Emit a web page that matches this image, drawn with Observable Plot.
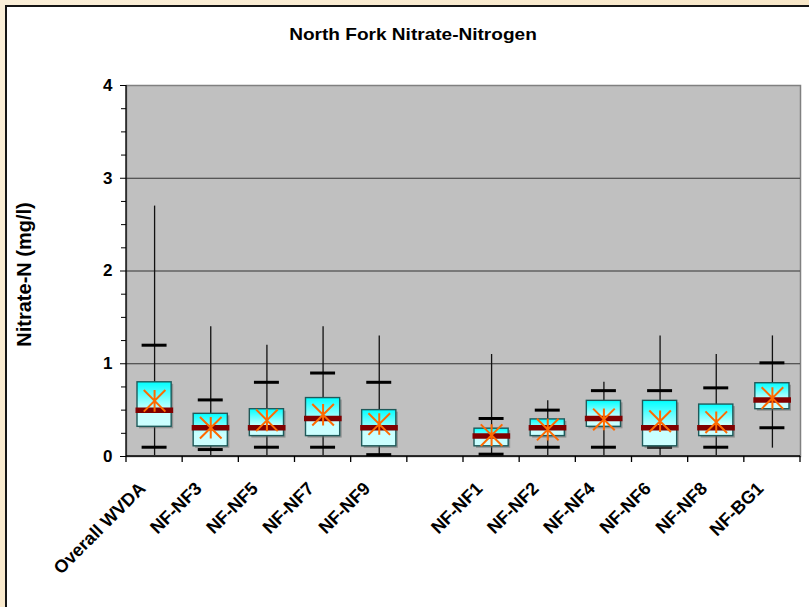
<!DOCTYPE html>
<html><head><meta charset="utf-8">
<script src="https://cdn.jsdelivr.net/npm/d3@7"></script>
<script src="https://cdn.jsdelivr.net/npm/@observablehq/plot@0.6"></script>
<style>
html,body{margin:0;padding:0;width:809px;height:607px;overflow:hidden;background:linear-gradient(135deg,#fbefd8,#f6e2bd);font-family:"Liberation Sans",Arial,sans-serif;}
#panel{position:absolute;left:5px;top:5px;width:840px;height:650px;background:#fff;border-left:2px solid #151515;border-top:2px solid #151515;}
#title{position:absolute;left:0;top:26px;width:826px;text-align:center;font-weight:bold;font-size:17px;line-height:18px;color:#000;transform:scaleX(1.12);transform-origin:413px 0;}
#chart{position:absolute;left:0;top:0;}
</style></head>
<body>
<div id="panel"></div>
<div id="title">North Fork Nitrate-Nitrogen</div>
<div id="chart"></div>
<script>
// ---- data ----
const groupA = ["Overall WVDA", "NF-NF3", "NF-NF5", "NF-NF7", "NF-NF9"];
const groupB = ["NF-NF1", "NF-NF2", "NF-NF4", "NF-NF6", "NF-NF8", "NF-BG1"];
const categories = [...groupA, ...groupB];
const mins    = [0.01, 0.01, 0.01, 0.01, 0.01, 0.01, 0.01, 0.01, 0.01, 0.01, 0.09];
const p10     = [0.10, 0.075, 0.10, 0.10, 0.02, 0.025, 0.10, 0.10, 0.10, 0.10, 0.31];
const q1      = [0.32, 0.11, 0.22, 0.22, 0.11, 0.11, 0.22, 0.32, 0.11, 0.22, 0.51];
const medians = [0.50, 0.31, 0.31, 0.41, 0.31, 0.22, 0.31, 0.41, 0.31, 0.31, 0.61];
const means   = [0.60, 0.31, 0.39, 0.45, 0.35, 0.23, 0.29, 0.40, 0.38, 0.37, 0.63];
const q3      = [0.80, 0.46, 0.51, 0.63, 0.50, 0.30, 0.40, 0.60, 0.60, 0.56, 0.79];
const p90     = [1.20, 0.61, 0.80, 0.90, 0.80, 0.41, 0.50, 0.71, 0.71, 0.74, 1.01];
const maxs    = [2.70, 1.40, 1.20, 1.40, 1.30, 1.10, 0.60, 0.80, 1.30, 1.10, 1.30];
const yTicks = [0, 1, 2, 3, 4];
const gridValues = [1, 2, 3];
const yLabel = "Nitrate-N (mg/l)";

const domain = [...groupA, "", ...groupB];
const rows = categories.map((c, i) => ({
  cat: c, min: mins[i], p10: p10[i], q1: q1[i], median: medians[i],
  mean: means[i], q3: q3[i], p90: p90[i], max: maxs[i]
}));

// mean marker: X plus vertical bar
const starX = {
  draw(ctx, size) {
    const r = Math.sqrt(size / Math.PI);
    ctx.moveTo(-r, -r); ctx.lineTo(r, r);
    ctx.moveTo(-r, r); ctx.lineTo(r, -r);
    ctx.moveTo(0, -r); ctx.lineTo(0, r);
  }
};

function defs() {
  const svg = d3.create("svg:defs");
  const g = svg.append("linearGradient").attr("id", "boxGrad")
    .attr("x1", 0).attr("y1", 0).attr("x2", 0).attr("y2", 1);
  g.append("stop").attr("offset", 0).attr("stop-color", "#00ffff");
  g.append("stop").attr("offset", 0.62).attr("stop-color", "#c8ffff");
  g.append("stop").attr("offset", 1).attr("stop-color", "#ccffff");
  return svg.node();
}

function axisLines(index, scales, values, dims) {
  const {x, y} = scales;
  const g = d3.create("svg:g");
  const right = dims.width - dims.marginRight;
  const bounds = domain.map(d => x(d)).concat([right]);
  const y0 = y(0);
  g.append("line").attr("x1", bounds[0]).attr("x2", right).attr("y1", y0).attr("y2", y0)
    .attr("stroke", "#000").attr("stroke-width", 1.5);
  g.append("line").attr("x1", bounds[0]).attr("x2", bounds[0]).attr("y1", y(4)).attr("y2", y0)
    .attr("stroke", "#000").attr("stroke-width", 1.3);
  for (const b of bounds) {
    g.append("line").attr("x1", b).attr("x2", b).attr("y1", y0).attr("y2", y0 + 6)
      .attr("stroke", "#000").attr("stroke-width", 1.3);
  }
  return g.node();
}

const font = "Liberation Sans, Arial, sans-serif";

const chart = Plot.plot({
  width: 809,
  height: 607,
  marginLeft: 126,
  marginRight: 9,
  marginTop: 85,
  marginBottom: 151,
  style: {background: "transparent", fontFamily: font, overflow: "visible", color: "#000"},
  x: {type: "band", domain, padding: 0, round: false, axis: null},
  y: {domain: [0, 4], axis: null},
  marks: [
    defs,
    Plot.frame({fill: "#c0c0c0", stroke: "#808080", strokeWidth: 1.5}),
    Plot.gridY(gridValues, {stroke: "#333", strokeOpacity: 1, strokeWidth: 1.2}),
    Plot.ruleX(rows, {x: "cat", y1: "min", y2: "max", stroke: "#111", strokeWidth: 1.3}),
    Plot.tickY(rows, {x: "cat", y: "p10", stroke: "#000", strokeWidth: 3, insetLeft: 15.6, insetRight: 15.6}),
    Plot.tickY(rows, {x: "cat", y: "p90", stroke: "#000", strokeWidth: 3, insetLeft: 15.6, insetRight: 15.6}),
    Plot.barY(rows, {x: "cat", y1: "q1", y2: "q3", fill: "#6a6a6a", fillOpacity: 0.55, insetLeft: 11, insetRight: 11, dx: 2, dy: 2}),
    Plot.barY(rows, {x: "cat", y1: "q1", y2: "q3", fill: "url(#boxGrad)", stroke: "#1f5a5a", strokeWidth: 1.4, insetLeft: 11, insetRight: 11}),
    Plot.tickY(rows, {x: "cat", y: "median", stroke: "#800000", strokeWidth: 5.5, insetLeft: 9.5, insetRight: 9}),
    Plot.dot(rows, {x: "cat", y: "mean", symbol: starX, r: 10.8, stroke: "#ff6a00", strokeWidth: 2, fill: "none"}),
    axisLines,
    Plot.axisY({ticks: yTicks, tickSize: 6, tickPadding: 8, tickFormat: d3.format("d"), fontSize: 17, fontWeight: "bold", label: null, stroke: "#000", fill: "#000"}),
    Plot.axisY({ticks: d3.range(0, 4.001, 0.25).filter(v => v % 1 !== 0), tickSize: 5, tickFormat: () => "", label: null, stroke: "#000"}),
    Plot.text(categories, {x: d => d, frameAnchor: "bottom", lineAnchor: "middle", rotate: -45, textAnchor: "end", dx: -12, dy: 29, fontSize: 18, fontWeight: "bold", fill: "#000"}),
    Plot.text([yLabel], {frameAnchor: "left", lineAnchor: "middle", rotate: -90, textAnchor: "middle", dx: -102, dy: 3.5, fontSize: 20, fontWeight: "bold", fill: "#000"})
  ]
});
document.getElementById("chart").appendChild(chart);
</script>
</body></html>
